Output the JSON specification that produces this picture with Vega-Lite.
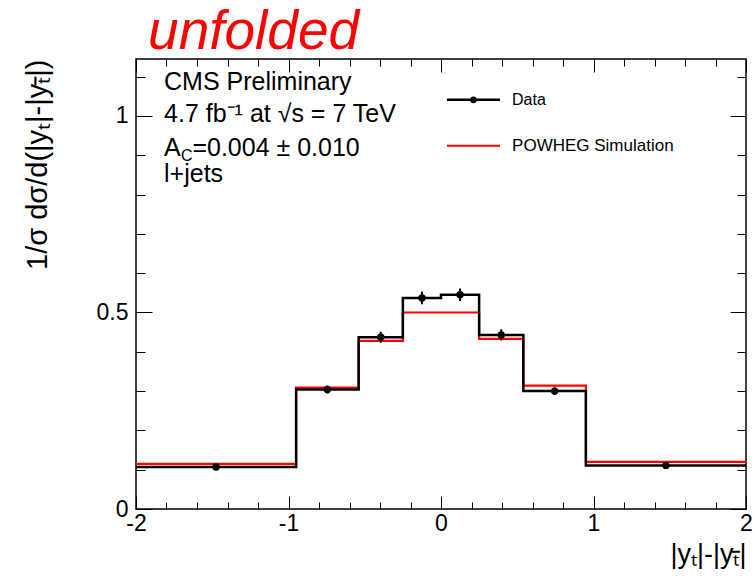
{
  "$schema": "https://vega.github.io/schema/vega-lite/v6.json",
  "width": 610,
  "height": 450,
  "autosize": {"type": "none"},
  "padding": {"left": 136, "top": 59, "right": 8, "bottom": 67},
  "background": "white",
  "config": {
    "font": "Liberation Sans",
    "view": {"stroke": "black", "strokeWidth": 1.5},
    "axis": {"grid": false, "domain": false, "tickColor": "black", "labelColor": "black", "titleColor": "black", "labelFont": "Liberation Sans", "titleFont": "Liberation Sans", "titleFontWeight": "normal", "tickWidth": 1}
  },
  "datasets": {
    "data_hist": [
      {"edge": -2, "value": 0.107},
      {"edge": -0.95, "value": 0.304},
      {"edge": -0.54, "value": 0.437},
      {"edge": -0.25, "value": 0.537},
      {"edge": 0, "value": 0.545},
      {"edge": 0.25, "value": 0.443},
      {"edge": 0.54, "value": 0.300},
      {"edge": 0.95, "value": 0.111},
      {"edge": 2, "value": 0.111}
    ],
    "powheg": [
      {"edge": -2, "value": 0.115},
      {"edge": -0.95, "value": 0.309},
      {"edge": -0.54, "value": 0.428},
      {"edge": -0.25, "value": 0.500},
      {"edge": 0, "value": 0.500},
      {"edge": 0.25, "value": 0.433},
      {"edge": 0.54, "value": 0.314},
      {"edge": 0.95, "value": 0.120},
      {"edge": 2, "value": 0.120}
    ],
    "points": [
      {"x": -1.475, "y": 0.107, "err": 0.006},
      {"x": -0.745, "y": 0.304, "err": 0.010},
      {"x": -0.395, "y": 0.437, "err": 0.014},
      {"x": -0.125, "y": 0.537, "err": 0.016},
      {"x": 0.125, "y": 0.545, "err": 0.016},
      {"x": 0.395, "y": 0.443, "err": 0.014},
      {"x": 0.745, "y": 0.300, "err": 0.010},
      {"x": 1.475, "y": 0.111, "err": 0.006}
    ],
    "one": [{}]
  },
  "resolve": {"scale": {"x": "shared", "y": "shared"}, "axis": {"x": "independent", "y": "independent"}},
  "layer": [
    {
      "data": {"name": "powheg"},
      "mark": {"type": "line", "interpolate": "step-after", "color": "#ff0000", "strokeWidth": 2.2},
      "encoding": {
        "x": {"field": "edge", "type": "quantitative", "scale": {"domain": [-2, 2], "nice": false, "zero": false},
          "axis": {"orient": "bottom", "values": [-2, -1, 0, 1, 2], "labelExpr": "toString(datum.value)", "tickSize": -13, "labelPadding": 16, "labelFontSize": 23, "labelFlush": false,
            "title": "|yₜ|-|yₜ̄|", "titleAnchor": "end", "titleAlign": "right", "titleFontSize": 27, "titlePadding": 6}},
        "y": {"field": "value", "type": "quantitative", "scale": {"domain": [0, 1.145], "nice": false, "zero": false},
          "axis": {"orient": "left", "values": [0, 0.5, 1], "labelExpr": "toString(datum.value)", "tickSize": -16, "labelPadding": 24, "labelFontSize": 23, "labelFlush": false,
            "title": "1/σ dσ/d(|yₜ|-|yₜ̄|)", "titleAnchor": "end", "titleFontSize": 29, "titlePadding": 44}}
      }
    },
    {
      "data": {"name": "data_hist"},
      "mark": {"type": "line", "interpolate": "step-after", "color": "black", "strokeWidth": 2.5},
      "encoding": {
        "x": {"field": "edge", "type": "quantitative", "scale": {"domain": [-2, 2], "nice": false, "zero": false},
          "axis": {"orient": "bottom", "values": [-1.8, -1.6, -1.4, -1.2, -0.8, -0.6, -0.4, -0.2, 0.2, 0.4, 0.6, 0.8, 1.2, 1.4, 1.6, 1.8], "labels": false, "tickSize": -7, "title": null}},
        "y": {"field": "value", "type": "quantitative", "scale": {"domain": [0, 1.145], "nice": false, "zero": false},
          "axis": {"orient": "left", "values": [0.1, 0.2, 0.3, 0.4, 0.6, 0.7, 0.8, 0.9, 1.1], "labels": false, "tickSize": -9, "title": null}}
      }
    },
    {
      "data": {"name": "points"},
      "mark": {"type": "errorbar", "ticks": false, "color": "black", "thickness": 2},
      "encoding": {
        "x": {"field": "x", "type": "quantitative", "scale": {"domain": [-2, 2], "nice": false, "zero": false}, "axis": null},
        "y": {"field": "y", "type": "quantitative", "scale": {"domain": [0, 1.145], "nice": false, "zero": false}, "axis": null},
        "yError": {"field": "err"}
      }
    },
    {
      "data": {"name": "points"},
      "mark": {"type": "point", "filled": true, "color": "black", "size": 55, "opacity": 1},
      "encoding": {
        "x": {"field": "x", "type": "quantitative", "scale": {"domain": [-2, 2], "nice": false, "zero": false},
          "axis": {"orient": "top", "values": [-2, -1, 0, 1, 2], "labels": false, "tickSize": -13, "title": null}},
        "y": {"field": "y", "type": "quantitative", "scale": {"domain": [0, 1.145], "nice": false, "zero": false},
          "axis": {"orient": "right", "values": [0, 0.5, 1], "labels": false, "tickSize": -16, "title": null}}
      }
    },
    {
      "data": {"name": "one"},
      "mark": {"type": "rule", "color": "black", "strokeWidth": 2.5},
      "encoding": {
        "x": {"datum": 0.039, "type": "quantitative", "scale": {"domain": [-2, 2], "nice": false, "zero": false},
          "axis": {"orient": "top", "values": [-1.8, -1.6, -1.4, -1.2, -0.8, -0.6, -0.4, -0.2, 0.2, 0.4, 0.6, 0.8, 1.2, 1.4, 1.6, 1.8], "labels": false, "tickSize": -7, "title": null}},
        "x2": {"datum": 0.387},
        "y": {"datum": 1.041, "type": "quantitative", "scale": {"domain": [0, 1.145], "nice": false, "zero": false},
          "axis": {"orient": "right", "values": [0.1, 0.2, 0.3, 0.4, 0.6, 0.7, 0.8, 0.9, 1.1], "labels": false, "tickSize": -9, "title": null}}
      }
    },
    {
      "data": {"name": "one"},
      "mark": {"type": "point", "filled": true, "color": "black", "size": 45, "opacity": 1},
      "encoding": {
        "x": {"datum": 0.213, "type": "quantitative", "axis": null},
        "y": {"datum": 1.041, "type": "quantitative", "axis": null}
      }
    },
    {
      "data": {"name": "one"},
      "mark": {"type": "rule", "color": "#ff0000", "strokeWidth": 2},
      "encoding": {
        "x": {"datum": 0.039, "type": "quantitative", "axis": null},
        "x2": {"datum": 0.387},
        "y": {"datum": 0.924, "type": "quantitative", "axis": null}
      }
    },
    {
      "data": {"name": "one"},
      "mark": {"type": "text", "align": "left", "baseline": "middle", "fontSize": 16, "color": "black"},
      "encoding": {
        "x": {"datum": 0.466, "type": "quantitative", "axis": null},
        "y": {"datum": 1.041, "type": "quantitative", "axis": null},
        "text": {"value": "Data"}
      }
    },
    {
      "data": {"name": "one"},
      "mark": {"type": "text", "align": "left", "baseline": "middle", "fontSize": 17, "color": "black"},
      "encoding": {
        "x": {"datum": 0.466, "type": "quantitative", "axis": null},
        "y": {"datum": 0.924, "type": "quantitative", "axis": null},
        "text": {"value": "POWHEG Simulation"}
      }
    },
    {
      "data": {"name": "one"},
      "mark": {"type": "text", "align": "left", "baseline": "alphabetic", "fontSize": 55, "fontStyle": "italic", "color": "#ff0000", "clip": false},
      "encoding": {
        "x": {"datum": -1.921, "type": "quantitative", "axis": null},
        "y": {"datum": 1.170, "type": "quantitative", "axis": null},
        "text": {"value": "unfolded"}
      }
    },
    {
      "data": {"name": "one"},
      "mark": {"type": "text", "align": "left", "baseline": "middle", "fontSize": 25, "color": "black"},
      "encoding": {
        "x": {"datum": -1.816, "type": "quantitative", "axis": null},
        "y": {"datum": 1.087, "type": "quantitative", "axis": null},
        "text": {"value": "CMS Preliminary"}
      }
    },
    {
      "data": {"name": "one"},
      "mark": {"type": "text", "align": "left", "baseline": "middle", "fontSize": 25, "color": "black"},
      "encoding": {
        "x": {"datum": -1.816, "type": "quantitative", "axis": null},
        "y": {"datum": 1.006, "type": "quantitative", "axis": null},
        "text": {"value": "4.7 fb⁻¹ at √s = 7 TeV"}
      }
    },
    {
      "data": {"name": "one"},
      "mark": {"type": "text", "align": "left", "baseline": "middle", "fontSize": 25, "color": "black"},
      "encoding": {
        "x": {"datum": -1.816, "type": "quantitative", "axis": null},
        "y": {"datum": 0.919, "type": "quantitative", "axis": null},
        "text": {"value": "A"}
      }
    },
    {
      "data": {"name": "one"},
      "mark": {"type": "text", "align": "left", "baseline": "middle", "fontSize": 16, "color": "black"},
      "encoding": {
        "x": {"datum": -1.705, "type": "quantitative", "axis": null},
        "y": {"datum": 0.899, "type": "quantitative", "axis": null},
        "text": {"value": "C"}
      }
    },
    {
      "data": {"name": "one"},
      "mark": {"type": "text", "align": "left", "baseline": "middle", "fontSize": 25, "color": "black"},
      "encoding": {
        "x": {"datum": -1.63, "type": "quantitative", "axis": null},
        "y": {"datum": 0.919, "type": "quantitative", "axis": null},
        "text": {"value": "=0.004 ± 0.010"}
      }
    },
    {
      "data": {"name": "one"},
      "mark": {"type": "text", "align": "left", "baseline": "middle", "fontSize": 25, "color": "black"},
      "encoding": {
        "x": {"datum": -1.816, "type": "quantitative", "axis": null},
        "y": {"datum": 0.852, "type": "quantitative", "axis": null},
        "text": {"value": "l+jets"}
      }
    }
  ]
}
